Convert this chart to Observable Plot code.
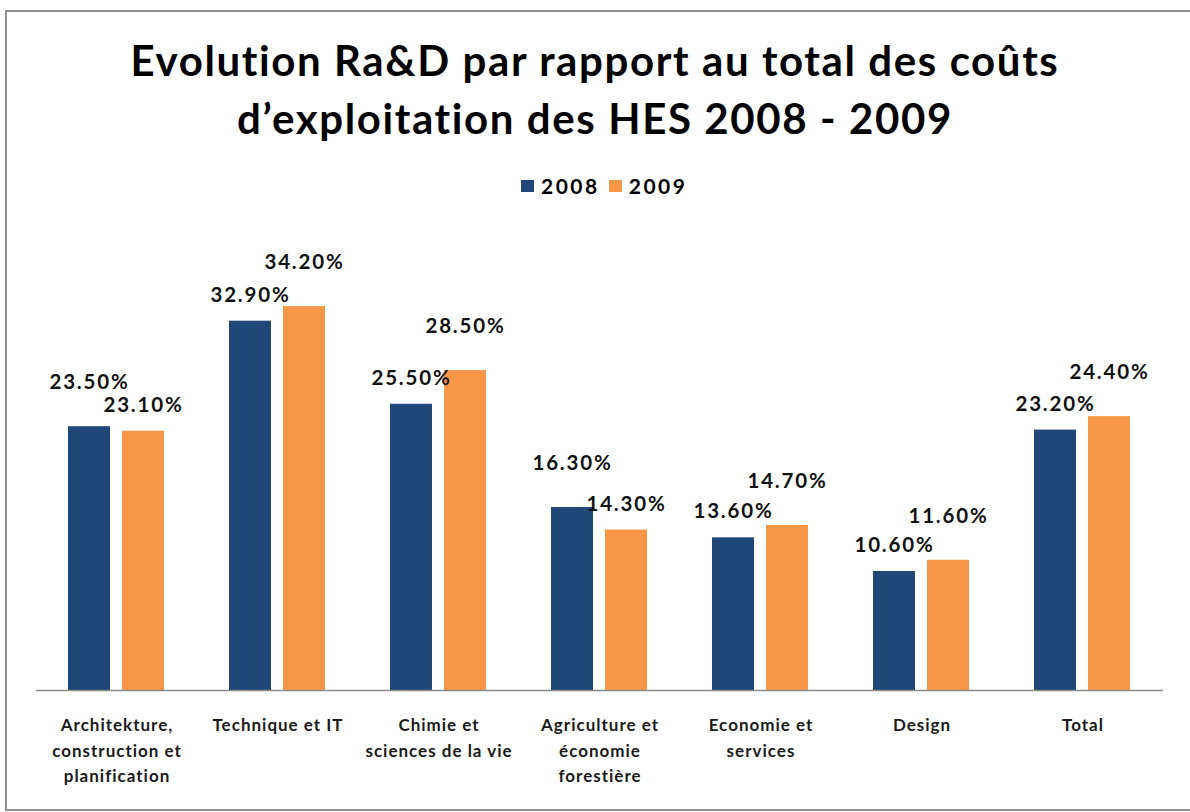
<!DOCTYPE html>
<html>
<head>
<meta charset="utf-8">
<script src="https://cdn.jsdelivr.net/npm/d3@7"></script>
<script src="https://cdn.jsdelivr.net/npm/@observablehq/plot@0.6"></script>
<style>
  html, body { margin: 0; padding: 0; background: #fff; }
  body { width: 1190px; height: 812px; position: relative; overflow: hidden; font-family: Lato, "Open Sans", sans-serif; }
  #frame { position: absolute; left: 5px; top: 10px; width: 1200px; height: 801px; border: 2px solid #8f8f8f; box-sizing: border-box; }
  #title { position: absolute; top: 31px; left: 0; width: 1190px; text-align: center; font-weight: bold; font-size: 42px; line-height: 58px; color: #000; letter-spacing: 1.6px; }
  #legend { position: absolute; top: 173px; left: 521px; display: flex; align-items: center; font-weight: bold; font-size: 21px; color: #000; }
  #legend .item { display: flex; align-items: center; margin-right: 9px; }
  #legend .sw { width: 13px; height: 12px; margin-right: 7px; }
  #legend .lbl { letter-spacing: 2.5px; }
  #chart { position: absolute; left: 0; top: 200px; }
  #chart g[aria-label="text"] text { letter-spacing: 1.8px; }
  #chart g[aria-label="fx-axis tick label"] text { letter-spacing: 1px; }
</style>
</head>
<body>
<div id="frame"></div>
<div id="title">Evolution Ra&amp;D par rapport au total des coûts<br>d’exploitation des HES 2008 - 2009</div>
<div id="legend"></div>
<div id="chart"></div>
<script>
const categories = [
  "Architekture,\nconstruction et\nplanification",
  "Technique et IT",
  "Chimie et\nsciences de la vie",
  "Agriculture et\néconomie\nforestière",
  "Economie et\nservices",
  "Design",
  "Total"
];
const years = ["2008", "2009"];
const values2008 = [23.5, 32.9, 25.5, 16.3, 13.6, 10.6, 23.2];
const values2009 = [23.1, 34.2, 28.5, 14.3, 14.7, 11.6, 24.4];
const colors = ["#1f4778", "#f79646"];

const data = [];
categories.forEach((c, i) => {
  const hi = Math.max(values2008[i], values2009[i]);
  data.push({cat: c, year: years[0], value: values2008[i], larger: values2008[i] === hi});
  data.push({cat: c, year: years[1], value: values2009[i], larger: values2009[i] === hi});
});

// legend
const legend = document.getElementById("legend");
years.forEach((y, i) => {
  const item = document.createElement("div");
  item.className = "item";
  const sw = document.createElement("div");
  sw.className = "sw";
  sw.style.background = colors[i];
  const lbl = document.createElement("span");
  lbl.className = "lbl";
  lbl.textContent = y;
  item.appendChild(sw);
  item.appendChild(lbl);
  legend.appendChild(item);
});

const fmt = d => d.value.toFixed(2) + "%";
const chart = Plot.plot({
  width: 1190,
  height: 590,
  marginLeft: 35,
  marginRight: 27,
  marginTop: 41,
  marginBottom: 100,
  style: { fontFamily: "Lato, sans-serif", color: "#1a1a1a", background: "transparent" },
  fx: { domain: categories, padding: 0, label: null },
  x: { domain: years, paddingInner: 0.218, paddingOuter: 0.573, axis: null },
  y: { domain: [0, 40], axis: null },
  color: { domain: years, range: colors },
  marks: [
    Plot.barY(data, { fx: "cat", x: "year", y: "value", fill: "year" }),
    Plot.ruleY([0], { stroke: "#8a8a8a", strokeWidth: 1.5 }),
    Plot.text(data.filter(d => d.larger), {
      fx: "cat", x: "year", y: "value", text: fmt,
      dy: -44, fontSize: 20.5, fontWeight: "bold", fill: "#111"
    }),
    Plot.text(data.filter(d => !d.larger), {
      fx: "cat", x: "year", y: "value", text: fmt,
      dy: -26, fontSize: 20.5, fontWeight: "bold", fill: "#111"
    }),
    Plot.axisFx({
      anchor: "bottom", label: null, tickSize: 0, tickPadding: 23,
      fontSize: 17, fontWeight: "bold", lineHeight: 1.48, fill: "#1a1a1a"
    })
  ]
});
document.getElementById("chart").appendChild(chart);
</script>
</body>
</html>
